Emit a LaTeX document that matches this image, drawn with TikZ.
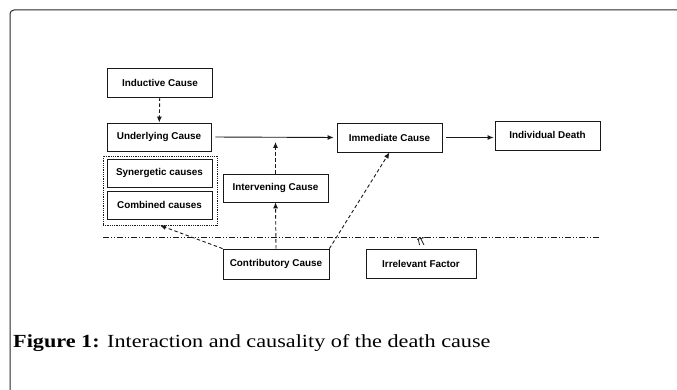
\documentclass[tikz,border=0pt]{standalone}
\usepackage{fontspec}
\setmainfont{Liberation Serif}
\setsansfont{Liberation Sans}
\newfontfamily\capfont[FakeStretch=1.2]{Liberation Serif}
\usetikzlibrary{arrows.meta}
\definecolor{framec}{gray}{0.15}
\definecolor{linec}{gray}{0.1}
\tikzset{
  cbox/.style={draw=linec, line width=0.8pt, inner sep=0pt, minimum width=105pt, minimum height=28pt,
    font=\sffamily\bfseries\fontsize{9.9}{11}\selectfont},
  arr/.style={draw=linec, line width=0.9pt, -{Latex[length=6pt,width=5pt]}},
  darr/.style={arr, dash pattern=on 3.5pt off 2.5pt},
  dashdotline/.style={draw=linec, line width=0.7pt, dash pattern=on 6pt off 2pt on 1pt off 2pt on 1pt off 2pt},
}
\begin{document}
\begin{tikzpicture}[x=1pt,y=-1pt]
\useasboundingbox (0,0) rectangle (677,390);
% outer frame
\draw[framec, line width=1pt, rounded corners=4pt] (10,391) -- (10,10) -- (678,10);
% nodes
\node[cbox, minimum height=29pt] (ind) at (160,82.5) {Inductive Cause};
\node[cbox, minimum width=104pt] (und) at (159,137) {Underlying Cause};
\node[cbox] (syn) at (159.5,173) {Synergetic causes};
\node[cbox] (com) at (159.5,205) {Combined causes};
\node[draw=linec, line width=0.8pt, densely dotted, inner sep=0pt, minimum width=114pt, minimum height=69pt] (grp) at (160,190.5) {};
\node[cbox] (int) at (275.5,188) {Intervening Cause};
\node[cbox, minimum width=106pt, minimum height=30pt] (con) at (276,264) {Contributory Cause};
\node[cbox, minimum height=29pt] (imm) at (389.5,137.5) {Immediate Cause};
\node[cbox, minimum height=29pt] (dea) at (547.5,135.5) {\raisebox{2pt}{Individual Death}};
\node[cbox, minimum width=110pt, minimum height=29pt] (irr) at (421,263.5) {Irrelevant Factor};
% dash-dot boundary
\coordinate (dl1) at (103,237);
\coordinate (dl2) at (600,237);
\draw[dashdotline] (dl1) -- (dl2);
% connectors
\draw[darr] (ind) -- (und);
\draw[arr, shorten <=4pt, shorten >=3pt] (und.east) -- (imm.west);
\draw[arr, shorten <=4pt, shorten >=1pt] (imm.east) -- (dea.west |- imm.east);
\coordinate (jn) at (275.5,142);
\draw[darr] (int.north) -- (jn);
\draw[darr] (con.north) -- (int.south);
\draw[darr] (con.north west) -- (grp.south);
\draw[darr] (con.north east) -- (imm.south);
% irrelevant mark
\coordinate (m1) at (420,237);
\coordinate (m2) at (424,245);
\draw[linec, line width=0.8pt] (m1) -- (m2);
\draw[linec, line width=0.8pt] (418,238) -- (419.5,245);
\draw[linec, line width=0.7pt] (417,239.5) -- (425,237.5);
% caption
\node[anchor=base west, inner sep=0pt, font=\capfont\fontsize{18.5}{20}\selectfont] (cap) at (13,347)
  {\textbf{Figure 1:} Interaction and causality of the death cause};
\end{tikzpicture}
\end{document}
